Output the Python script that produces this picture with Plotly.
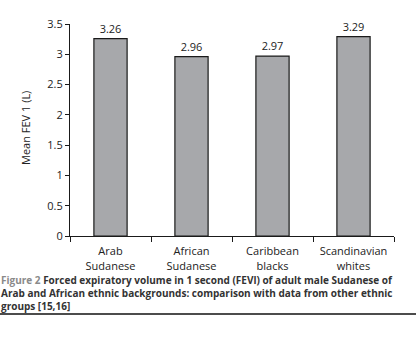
import plotly.graph_objects as go

categories = ["Arab<br>Sudanese", "African<br>Sudanese", "Caribbean<br>blacks", "Scandinavian<br>whites"]
values = [3.26, 2.96, 2.97, 3.29]
value_labels = ["3.26", "2.96", "2.97", "3.29"]
y_title = "Mean FEV 1 (L)"
caption_head = "Figure 2"
caption_lines = [" Forced expiratory volume in 1 second (FEVl) of adult male Sudanese of",
                 "Arab and African ethnic backgrounds: comparison with data from other ethnic",
                 "groups [15,16]"]

W, H = 418, 341
L, R, T, B = 70, 24, 24, 105
pw, ph = W - L - R, H - T - B

def px(x):
    return (x - L) / pw

def py(y):
    return (H - B - y) / ph

font = "Open Sans"

fig = go.Figure(go.Bar(
    x=categories, y=values, text=value_labels, textposition="outside",
    textfont=dict(family=font, size=11, color="#222"),
    marker=dict(color="#a7a8ab", line=dict(color="#1a1a1a", width=1.2)),
    width=0.41, cliponaxis=False,
))

caption = ("<b><span style='color:#8a8a8a'>" + caption_head + "</span>"
           + "<br>".join(caption_lines) + "</b>")

annotations = [
    dict(text=y_title, xref="paper", yref="paper", x=px(25), y=py(128), textangle=-90,
         showarrow=False, font=dict(family=font, size=11, color="#222"),
         xanchor="center", yanchor="middle"),
    dict(text=caption, xref="paper", yref="paper", x=px(0), y=py(272),
         xanchor="left", yanchor="top", align="left", showarrow=False, borderpad=0,
         font=dict(family=font, size=10, color="#333")),
]

fig.update_layout(
    width=W, height=H, margin=dict(l=L, r=R, t=T, b=B),
    paper_bgcolor="white", plot_bgcolor="white", showlegend=False,
    font=dict(family=font, size=11, color="#222"),
    xaxis=dict(showline=True, linecolor="#1a1a1a", linewidth=1.2,
               ticks="outside", ticklen=5, tickcolor="#1a1a1a", tickson="boundaries",
               ticklabelstandoff=5,
               tickfont=dict(family=font, size=11, color="#222"), showgrid=False),
    yaxis=dict(range=[0, 3.5], dtick=0.5, showline=True, linecolor="#1a1a1a", linewidth=1.2,
               ticks="outside", ticklen=4, tickcolor="#1a1a1a", showgrid=False, zeroline=False,
               tickfont=dict(family=font, size=11, color="#222")),
    annotations=annotations,
    shapes=[dict(type="line", xref="paper", yref="paper", x0=px(0), x1=px(416),
                 y0=py(314), y1=py(314), line=dict(color="#111", width=1.5))],
)

fig.write_html("out.html")
